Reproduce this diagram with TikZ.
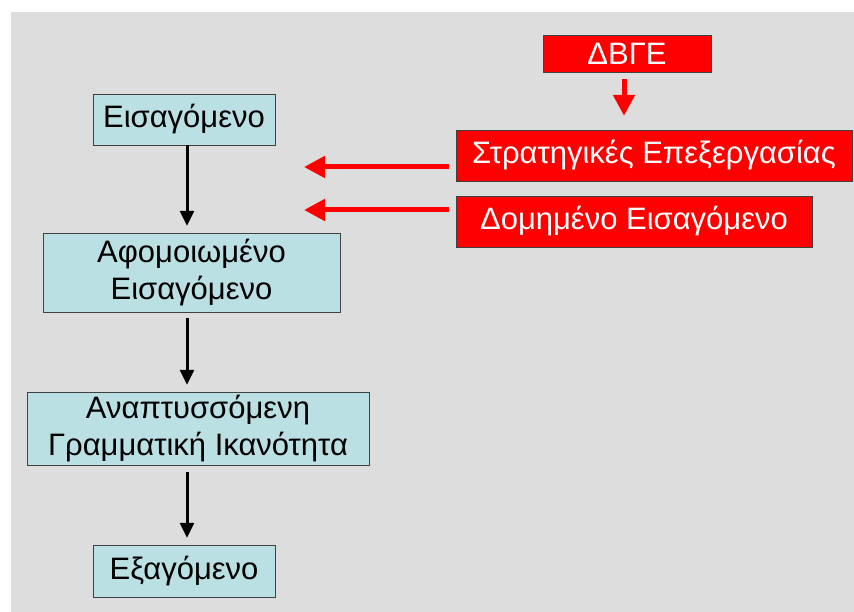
\documentclass[tikz,border=0pt]{standalone}
\usepackage{fontspec}
\setmainfont{Liberation Sans}
\usetikzlibrary{arrows.meta}
\definecolor{slide}{HTML}{DDDDDD}
\definecolor{stagefill}{HTML}{BBE0E3}
\begin{document}
\begin{tikzpicture}[x=1pt, y=-1pt,
  stage/.style = {draw=black!75, fill=stagefill, text=black, align=center, inner sep=0pt, font=\fontsize{31}{37}\selectfont},
  tool/.style = {draw=black!75, fill=red, text=white, inner sep=0pt, font=\fontsize{31}{37}\selectfont},
  flow/.style = {-{Triangle[width=14pt,length=15pt]}, line width=3pt},
  feed/.style = {-{Triangle[width=21pt,length=21pt]}, draw=red, line width=5pt}]
\useasboundingbox (0,0) rectangle (854,612);
\fill[slide] (11,12) rectangle (854,612);
% left column
\node[stage, minimum width=182, minimum height=51] (eis) at (184,119.5) {Εισαγόμενο};
\node[stage, minimum width=297, minimum height=79] (afom) at (191.5,272.5) {Αφομοιωμένο\\Εισαγόμενο};
\node[stage, minimum width=342, minimum height=73] (anap) at (198,428.5) {Αναπτυσσόμενη\\Γραμματική Ικανότητα};
\node[stage, minimum width=182, minimum height=52] (exag) at (184,571) {Εξαγόμενο};
% right column
\node[tool, minimum width=168, minimum height=37] (dbge) at (627,53.5) {ΔΒΓΕ};
\node[tool, minimum width=396, minimum height=51] (strat) at (654,155.5) {Στρατηγικές Επεξεργασίας};
\node[tool, minimum width=356, minimum height=51] (dom) at (634,221.5) {Δομημένο Εισαγόμενο};
\coordinate (spine) at (187,0);
\coordinate (drop) at (624,0);
\coordinate (in1) at (304,167);
\coordinate (in2) at (304,210);
\draw[flow, shorten >=7] (eis.south -| spine) -- (afom.north -| spine);
\draw[flow, shorten <=6, shorten >=7] (afom.south -| spine) -- (anap.north -| spine);
\draw[flow, shorten <=7, shorten >=7] (anap.south -| spine) -- (exag.north -| spine);
\draw[feed, shorten <=7, shorten >=14] (dbge.south -| drop) -- (strat.north -| drop);
\draw[feed, shorten <=7] (strat.west |- in1) -- (in1);
\draw[feed, shorten <=7] (dom.west |- in2) -- (in2);
\end{tikzpicture}
\end{document}
